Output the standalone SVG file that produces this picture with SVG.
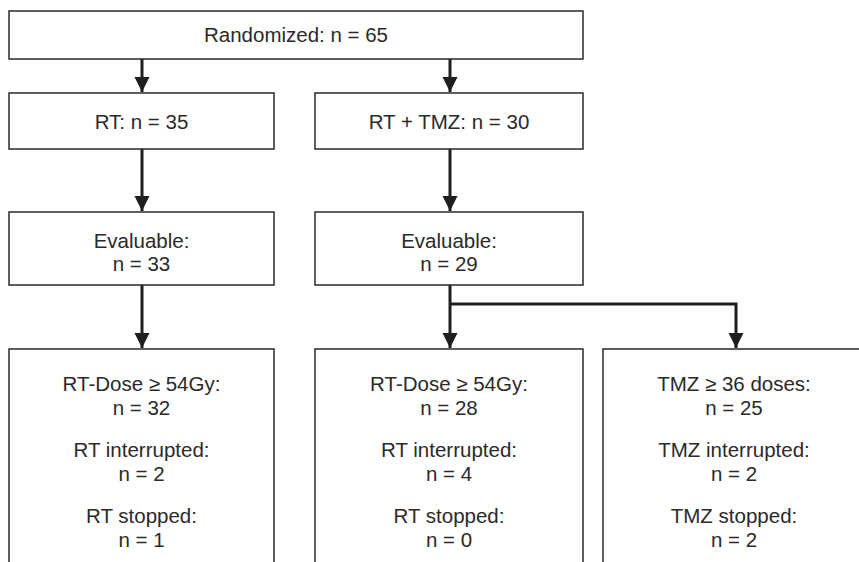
<svg xmlns="http://www.w3.org/2000/svg" width="859" height="562" viewBox="0 0 859 562">
<defs>
<style>
.box{fill:#fff;stroke:#2a2a2a;stroke-width:1.5}
.t{font-family:"Liberation Sans",Arial,sans-serif;font-size:20.5px;fill:#2a2a2a;text-anchor:middle}
.c{fill:none;stroke:#1e1e1e;stroke-width:3}
</style>
<marker id="ah" markerUnits="userSpaceOnUse" markerWidth="16" markerHeight="16" viewBox="0 0 16 16" refX="15" refY="8" orient="auto">
<path d="M0,0.5 L15,8 L0,15.5 Z" fill="#1e1e1e"/>
</marker>
</defs>
<g id="connectors">
<path class="c" d="M142,59 V92" marker-end="url(#ah)"/>
<path class="c" d="M450,59 V92" marker-end="url(#ah)"/>
<path class="c" d="M142,149 V211" marker-end="url(#ah)"/>
<path class="c" d="M450,149 V211" marker-end="url(#ah)"/>
<path class="c" d="M142,285 V348" marker-end="url(#ah)"/>
<path class="c" d="M450,285 V348" marker-end="url(#ah)"/>
<path class="c" d="M450,304 H736 V348" marker-end="url(#ah)"/>
</g>
<g id="randomized"><rect class="box" x="9" y="11" width="574" height="48"/><text class="t" x="296" y="42">Randomized: n = 65</text></g>
<g id="rt"><rect class="box" x="9" y="93" width="265" height="56"/><text class="t" x="141.5" y="129">RT: n = 35</text></g>
<g id="rttmz"><rect class="box" x="315" y="93" width="268" height="56"/><text class="t" x="449" y="129">RT + TMZ: n = 30</text></g>
<g id="eval-rt"><rect class="box" x="9" y="212" width="265" height="73"/><text class="t" x="141.5" y="248">Evaluable:</text><text class="t" x="141.5" y="271">n = 33</text></g>
<g id="eval-rttmz"><rect class="box" x="315" y="212" width="268" height="73"/><text class="t" x="449" y="248">Evaluable:</text><text class="t" x="449" y="271">n = 29</text></g>
<g id="outcome-rt"><rect class="box" x="9" y="349" width="265" height="230"/>
<text class="t" x="141.5" y="391">RT-Dose ≥ 54Gy:</text><text class="t" x="141.5" y="415">n = 32</text>
<text class="t" x="141.5" y="457">RT interrupted:</text><text class="t" x="141.5" y="481">n = 2</text>
<text class="t" x="141.5" y="523">RT stopped:</text><text class="t" x="141.5" y="547">n = 1</text></g>
<g id="outcome-rttmz-rt"><rect class="box" x="315" y="349" width="268" height="230"/>
<text class="t" x="449" y="391">RT-Dose ≥ 54Gy:</text><text class="t" x="449" y="415">n = 28</text>
<text class="t" x="449" y="457">RT interrupted:</text><text class="t" x="449" y="481">n = 4</text>
<text class="t" x="449" y="523">RT stopped:</text><text class="t" x="449" y="547">n = 0</text></g>
<g id="outcome-rttmz-tmz"><rect class="box" x="603" y="349" width="280" height="230"/>
<text class="t" x="734" y="391">TMZ ≥ 36 doses:</text><text class="t" x="734" y="415">n = 25</text>
<text class="t" x="734" y="457">TMZ interrupted:</text><text class="t" x="734" y="481">n = 2</text>
<text class="t" x="734" y="523">TMZ stopped:</text><text class="t" x="734" y="547">n = 2</text></g>
</svg>
